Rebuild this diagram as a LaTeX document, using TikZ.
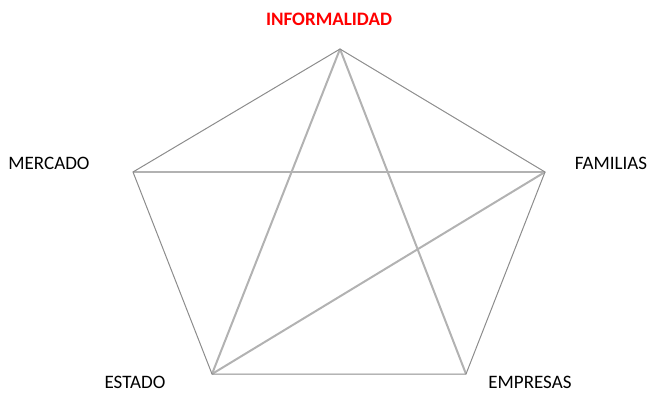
\documentclass[tikz,border=0pt]{standalone}
\usepackage{fontspec}
\setmainfont{Carlito}
\begin{document}
\begin{tikzpicture}[x=1pt,y=-1pt,
  lbl/.style={inner sep=0pt,font=\fontsize{19}{21}\selectfont,text=black},
  outer/.style={draw=black!45,line width=1pt},
  inner/.style={draw=black!30,line width=2pt}]
\useasboundingbox (0,0) rectangle (650,394);
\coordinate (T) at (340,49);
\coordinate (L) at (133,172);
\coordinate (R) at (545,172);
\coordinate (BL) at (212,374);
\coordinate (BR) at (466,374);
\draw[inner] (T) -- (BL);
\draw[inner] (T) -- (BR);
\draw[inner] (L) -- (R);
\draw[inner] (R) -- (BL);
\draw[outer,line join=miter] (BL) -- (L) -- (T) -- (R) -- (BR) -- cycle;
\node[lbl,text=red,font=\fontsize{19}{21}\selectfont\bfseries] (inf) at (329,19) {INFORMALIDAD};
\node[lbl] (mer) at (49,163) {MERCADO};
\node[lbl] (fam) at (611,163) {FAMILIAS};
\node[lbl,anchor=base] (est) at (135,388) {ESTADO};
\node[lbl,anchor=base] (emp) at (530,388) {EMPRESAS};
\end{tikzpicture}
\end{document}
